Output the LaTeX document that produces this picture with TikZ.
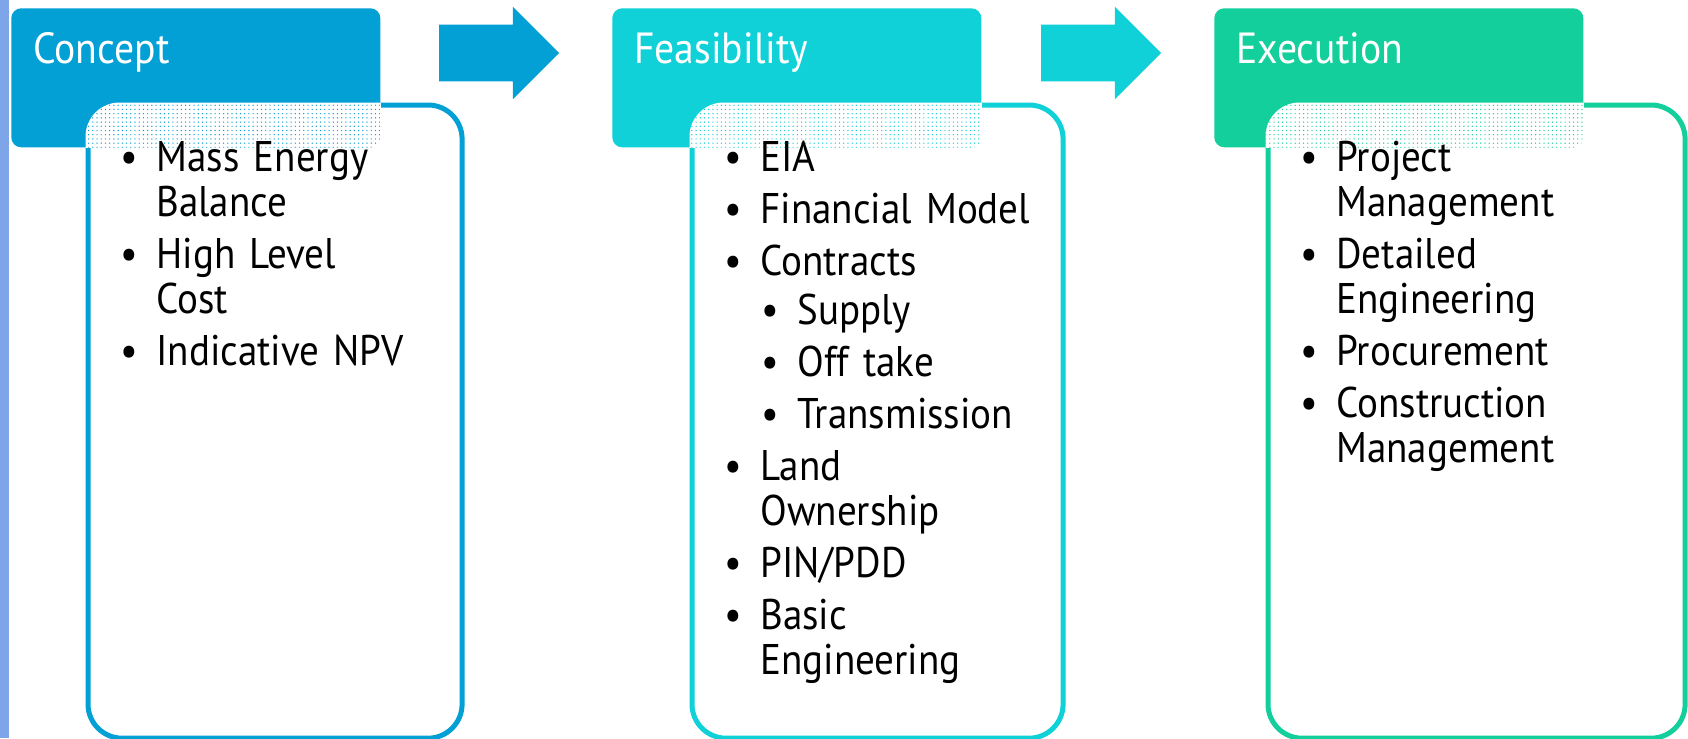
\documentclass[tikz,border=0pt]{standalone}
\usepackage{fontspec}
\setmainfont{PT Sans}[FakeStretch=0.91]
\usepackage{enumitem}
\usepackage{tikz}
\usetikzlibrary{shapes.arrows,patterns,positioning}

\definecolor{conceptBlue}{RGB}{3,160,214}
\definecolor{feasCyan}{RGB}{16,208,216}
\definecolor{execGreen}{RGB}{19,207,155}
\definecolor{stripBlue}{RGB}{125,165,232}

\setlist[itemize]{label=\textbullet, leftmargin=0.775cm, labelwidth=0.9cm,
  labelsep=0pt, align=left, topsep=0pt, partopsep=0pt, parsep=0pt, itemsep=5pt}
\setlist[itemize,2]{leftmargin=0.925cm, topsep=2.5pt}

\begin{document}
\begin{tikzpicture}[x=0.025cm, y=-0.025cm]
			\useasboundingbox (0,0) rectangle (1688,738);
			\fill[stripBlue] (0,0) rectangle (9,738);
			\begin{scope}
				[
					styleCard/.style={
						draw=#1, fill=white, line width=0.125cm,
						rounded corners=0.85cm, minimum height=15.825cm,
						anchor=north west, inner sep=0
						},
					styleHead/.style={fill=#1, rounded corners=0.25cm,
						minimum width=9.225cm, minimum height=3.475cm,
						anchor=north west, inner sep=0},
					styleStep/.style={single arrow, fill=#1, inner xsep=0, inner ysep=0.7cm,
						minimum width=2.3cm, minimum height=3cm,
						single arrow head extend=0.45cm, single arrow tip angle=90},
				]
				\node(cardConcept)[styleCard=conceptBlue, minimum width=9.35cm] at (85.5,102.5) {};
				\node(cardFeas)[styleCard=feasCyan, minimum width=9.275cm] at (689.5,102.5) {};
				\node(cardExec)[styleCard=execGreen, minimum width=10.425cm] at (1265.5,102.5) {};

				\node(concept)[styleHead=conceptBlue] at (11,8) {};
				\node(feas)[styleHead=feasCyan] at (612,8) {};
				\node(exec)[styleHead=execGreen] at (1214,8) {};

				\node(stepA)[styleStep=conceptBlue] at (485,53) {};
				\node(stepB)[styleStep=feasCyan] at (1087,53) {};
			\end{scope}
			% dotted overlap of header and card
			\begin{scope}
				\clip[rounded corners=0.85cm] (cardConcept.north west) rectangle (cardConcept.south east);
				\fill[white] (concept.north west) rectangle (concept.south east);
				\fill[pattern=dots, pattern color=conceptBlue, rounded corners=0.25cm] (concept.north west) rectangle (concept.south east);
			\end{scope}
			\begin{scope}
				\clip[rounded corners=0.85cm] (cardFeas.north west) rectangle (cardFeas.south east);
				\fill[white] (feas.north west) rectangle (feas.south east);
				\fill[pattern=dots, pattern color=feasCyan, rounded corners=0.25cm] (feas.north west) rectangle (feas.south east);
			\end{scope}
			\begin{scope}
				\clip[rounded corners=0.85cm] (cardExec.north west) rectangle (cardExec.south east);
				\fill[white] (exec.north west) rectangle (exec.south east);
				\fill[pattern=dots, pattern color=execGreen, rounded corners=0.25cm] (exec.north west) rectangle (exec.south east);
			\end{scope}
			\begin{scope}
				[
					styleTitle/.style={text=white, anchor=base west, inner sep=0,
						font=\fontsize{31}{31}\selectfont},
					styleList/.style={text width=9.4cm, anchor=north west, inner sep=0,
						font=\fontsize{30.5}{32}\selectfont},
				]
				\node(tConcept)[styleTitle] at ([xshift=0.55cm, yshift=-1.375cm]concept.north west) {Concept};
				\node(tFeas)[styleTitle] at ([xshift=0.55cm, yshift=-1.375cm]feas.north west) {Feasibility};
				\node(tExec)[styleTitle] at ([xshift=0.55cm, yshift=-1.375cm]exec.north west) {Execution};

				\node(lConcept)[styleList] at ([xshift=0.99cm, yshift=-0.6cm]cardConcept.north west) {%
					\begin{itemize}
						\item Mass Energy\\Balance
						\item High Level\\Cost
						\item Indicative NPV
					\end{itemize}};
				\node(lFeas)[styleList] at ([xshift=0.99cm, yshift=-0.6cm]cardFeas.north west) {%
					\begin{itemize}
						\item EIA
						\item Financial Model
						\item Contracts
						\begin{itemize}
							\item Supply
							\item Off take
							\item Transmission
						\end{itemize}
						\item Land\\Ownership
						\item PIN/PDD
						\item Basic\\Engineering
					\end{itemize}};
				\node(lExec)[styleList] at ([xshift=0.99cm, yshift=-0.6cm]cardExec.north west) {%
					\begin{itemize}
						\item Project\\Management
						\item Detailed\\Engineering
						\item Procurement
						\item Construction\\Management
					\end{itemize}};
			\end{scope}
		\end{tikzpicture}
\end{document}
